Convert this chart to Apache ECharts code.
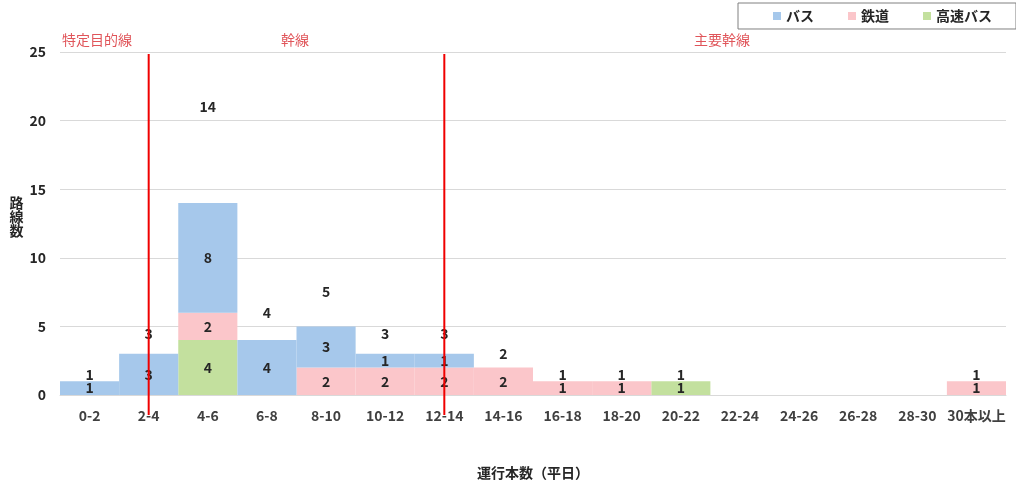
<!DOCTYPE html>
<html><head><meta charset="utf-8">
<script src="https://cdn.jsdelivr.net/npm/echarts@6/dist/echarts.min.js"></script>
<style>html,body{margin:0;padding:0;background:#fff}#c{width:1016px;height:485px}</style>
</head><body><div id="c"></div>
<script>
const categories = ['0-2','2-4','4-6','6-8','8-10','10-12','12-14','14-16','16-18','18-20','20-22','22-24','24-26','26-28','28-30','30本以上'];
const bus      = [1,3,8,4,3,1,1,0,0,0,0,0,0,0,0,0];
const rail     = [0,0,2,0,2,2,2,2,1,1,0,0,0,0,0,1];
const express  = [0,0,4,0,0,0,0,0,0,0,1,0,0,0,0,0];
const totals   = [1,3,14,4,5,3,3,2,1,1,1,0,0,0,0,1];
const yTicks   = [0,5,10,15,20,25];
const dividers = ['2-4','12-14'];
const dividerSpan = [24.85, -1.45];

const FONT = '"Noto Sans CJK JP","Noto Sans",sans-serif';
const lbl = {show:true, position:'inside', color:'#262626', fontSize:14, fontWeight:'bold', fontFamily:FONT,
  formatter: p => (p.value ? String(p.value) : '')};

const chart = echarts.init(document.getElementById('c'), null, {renderer:'canvas'});
const dividerSeries = dividers.map(d => ({
  type:'line', data: dividerSpan.map(v => [d, v]), clip:false, silent:true,
  symbol:'none', lineStyle:{color:'#f00000', width:2}, z:5
}));
chart.setOption({
  animation:false,
  textStyle:{fontFamily:FONT},
  grid:{left:60, right:10, top:52, bottom:88},
  legend:{
    data:['バス','鉄道','高速バス'],
    left:738, top:3, width:240, padding:[6,24,6,35],
    borderColor:'#808080', borderWidth:1,
    icon:'rect', itemWidth:8, itemHeight:8, itemGap:34,
    textStyle:{fontSize:14, fontWeight:'bold', color:'#262626', fontFamily:FONT}
  },
  xAxis:{
    type:'category', data:categories,
    axisLine:{lineStyle:{color:'#d9d9d9'}}, axisTick:{show:false},
    axisLabel:{fontSize:14, fontWeight:'bold', color:'#404040', margin:14, interval:0, fontFamily:FONT},
    name:'運行本数（平日）', nameLocation:'middle', nameGap:71,
    nameTextStyle:{fontSize:14, fontWeight:'bold', color:'#262626', fontFamily:FONT}
  },
  yAxis:{
    type:'value', min:yTicks[0], max:yTicks[yTicks.length-1], interval:yTicks[1]-yTicks[0],
    axisLine:{show:false}, axisTick:{show:false},
    splitLine:{lineStyle:{color:'#d9d9d9'}},
    axisLabel:{fontSize:14, fontWeight:'bold', color:'#262626', margin:14, fontFamily:FONT},
    name:'路\n線\n数\n', nameLocation:'middle', nameRotate:0, nameGap:34,
    nameTextStyle:{fontSize:14, fontWeight:'bold', color:'#262626', lineHeight:14, fontFamily:FONT}
  },
  series:[
    {name:'高速バス', type:'bar', stack:'s', data:express, barCategoryGap:'0%', itemStyle:{color:'#c3e09e'}, label:lbl},
    {name:'鉄道', type:'bar', stack:'s', data:rail, itemStyle:{color:'#fbc6ca'}, label:lbl},
    {name:'バス', type:'bar', stack:'s', data:bus, itemStyle:{color:'#a6c8eb'}, label:lbl},
    {name:'合計', type:'bar', stack:'s', data:totals, clip:false, itemStyle:{color:'rgba(0,0,0,0)'}, label:lbl}
  ].concat(dividerSeries),
  graphic:[
    {type:'text', left:62, top:33, style:{text:'特定目的線', fill:'#e0555a', font:'14px '+FONT}},
    {type:'text', left:281, top:33, style:{text:'幹線', fill:'#e0555a', font:'14px '+FONT}},
    {type:'text', left:694, top:33, style:{text:'主要幹線', fill:'#e0555a', font:'14px '+FONT}}
  ]
});
</script></body></html>
